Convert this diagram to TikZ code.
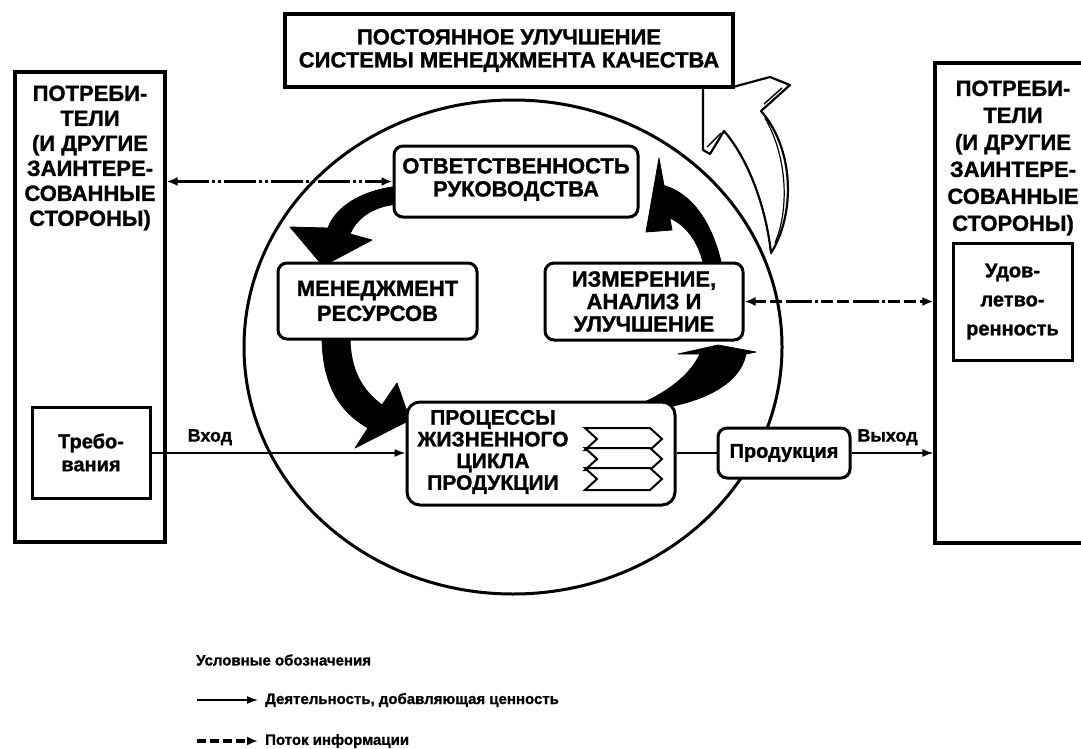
\documentclass[tikz,border=0pt]{standalone}
\usepackage{fontspec}
\setmainfont{Liberation Sans}[BoldFeatures={FakeBold=1.2}]
\usetikzlibrary{arrows.meta,shapes.geometric,calc}
\begin{document}
\begin{tikzpicture}[x=1pt,y=-1pt,
  bx/.style={draw,line width=3.2pt,fill=white,inner sep=0pt},
  rbx/.style={draw,line width=3pt,fill=white,rounded corners=9pt,inner sep=0pt,align=center},
  txt/.style={inner sep=0pt,align=center,font=\bfseries\fontsize{22}{25}\selectfont},
  flow/.style={line width=1.6pt,-{Latex[length=11pt,width=8pt]}},
  info/.style={line width=3.4pt,{Latex[length=11pt,width=9pt]}-{Latex[length=11pt,width=9pt]},dash pattern=on 32pt off 3pt on 3pt off 3pt on 3pt off 3pt},
  infor/.style={line width=3.4pt,{Latex[length=11pt,width=9pt]}-{Latex[length=11pt,width=9pt]},dash pattern=on 12pt off 4pt on 12pt off 4pt on 26pt off 3pt on 3pt off 3pt},
  infol/.style={line width=3.4pt,-{Latex[length=11pt,width=9pt]},dash pattern=on 9pt off 4pt},
  blk/.style={fill=black,draw=black,line width=0.8pt,line join=round},
  lbl/.style={inner sep=0pt,font=\bfseries\fontsize{18}{20}\selectfont},
  leg/.style={inner sep=0pt,anchor=west,font=\bfseries\fontsize{15}{17}\selectfont},
]
\useasboundingbox (0,0) rectangle (1081,749);
\fill[white] (0,0) rectangle (1081,749);

% big circle
\node[draw,ellipse,line width=3pt,minimum width=538pt,minimum height=494pt,inner sep=0pt] (cyc) at (513,347) {};

% hollow improvement arrow
\draw[line width=2.2pt,fill=white,line join=round] (703,87) -- (703,150) -- (710,154) -- (724,131)
  .. controls (745,155) and (765,200) .. (771,253)
  .. controls (795,215) and (795,150) .. (761,111) -- (790,85) -- (770,77) -- (733,87) -- cycle;
\draw[line width=1.2pt] (775,243) .. controls (789,210) and (788,158) .. (765,118);
\draw[line width=1.4pt] (707,147) -- (721,133);
\draw[line width=1.4pt] (764,104) -- (782,88);

% black cycle arrows
\fill[blk] (400,186) .. controls (360,190) and (335,208) .. (328,228) -- (290,227) -- (323,266) -- (372,240) -- (350,234) .. controls (358,215) and (378,205) .. (400,204) -- cycle;
\fill[blk] (322,336) .. controls (322,385) and (340,412) .. (368,428) -- (355,448) -- (410,420) -- (397,383) -- (382,405) .. controls (362,390) and (350,370) .. (350,336) -- cycle;
\fill[blk] (640,404) .. controls (668,392) and (690,375) .. (700,354) -- (678,354) -- (718,345) -- (756,352) -- (746,354) .. controls (740,385) and (700,405) .. (645,410) -- cycle;
\fill[blk] (662,185) .. controls (690,192) and (712,220) .. (722,266) -- (704,266) .. controls (698,240) and (685,222) .. (662,215) -- cycle;
\fill[blk] (659,158) -- (672,230) -- (646,232) -- cycle;

% boxes
\node[bx,minimum width=448pt,minimum height=73pt,txt,inner sep=0pt,font=\bfseries\fontsize{22}{23}\selectfont] (top) at (509,50.5) {ПОСТОЯННОЕ УЛУЧШЕНИЕ\\СИСТЕМЫ МЕНЕДЖМЕНТА КАЧЕСТВА};
\node[bx,minimum width=150pt,minimum height=470pt] (lbox) at (90,307) {};
\node[txt] (ltxt) at (90,158) {ПОТРЕБИ-\\ТЕЛИ\\(И ДРУГИЕ\\ЗАИНТЕРЕ-\\СОВАННЫЕ\\СТОРОНЫ)};
\node[bx,line width=3pt,minimum width=118pt,minimum height=91pt] (req) at (91,452.5) {};
\node[txt,font=\bfseries\fontsize{20}{23}\selectfont] (reqt) at (req) {Требо-\\вания};
\node[bx,minimum width=152pt,minimum height=480pt] (rbox) at (1011,303) {};
\node[txt,font=\bfseries\fontsize{22}{27}\selectfont] (rtxt) at (1013,158) {ПОТРЕБИ-\\ТЕЛИ\\(И ДРУГИЕ\\ЗАИНТЕРЕ-\\СОВАННЫЕ\\СТОРОНЫ)};
\node[bx,line width=3pt,minimum width=119pt,minimum height=117pt] (udov) at (1012.5,301.5) {};
\node[txt,font=\bfseries\fontsize{20}{29}\selectfont] (udovt) at (udov) {Удов-\\летво-\\ренность};

\node[rbx,minimum width=244pt,minimum height=71pt] (otv) at (516,181.5) {};
\node[txt,font=\bfseries\fontsize{22}{23}\selectfont] (otvt) at (516,179.5) {ОТВЕТСТВЕННОСТЬ\\РУКОВОДСТВА};
\node[rbx,minimum width=199pt,minimum height=76pt,txt] (men) at (377.5,301) {МЕНЕДЖМЕНТ\\РЕСУРСОВ};
\node[rbx,minimum width=198pt,minimum height=77pt,txt,font=\bfseries\fontsize{22}{22.5}\selectfont] (izm) at (644,301.5) {ИЗМЕРЕНИЕ,\\АНАЛИЗ И\\УЛУЧШЕНИЕ};
\node[rbx,rounded corners=13pt,minimum width=268pt,minimum height=103pt] (zhc) at (541,453.5) {};
\node[txt,font=\bfseries\fontsize{21}{21.7}\selectfont] (zhct) at (493,452) {ПРОЦЕССЫ\\ЖИЗНЕННОГО\\ЦИКЛА\\ПРОДУКЦИИ};
\foreach \t in {428,448,468}{
  \draw[line width=2pt,fill=white,line join=miter] (585,\t) -- (650,\t) -- (662,\t+11) -- (650,\t+22) -- (585,\t+22) -- (597,\t+11) -- cycle;
}
\node[rbx,minimum width=132pt,minimum height=50pt,font=\bfseries\fontsize{20}{22}\selectfont] (prod) at (784,453) {Продукция};

% connectors
\draw[flow] (req.east |- 0,453) -- node[lbl,pos=0.23,above=7pt] (vhod) {Вход} (zhc.west |- 0,453);
\draw[line width=1.6pt] (zhc.east |- 0,453) -- (prod.west |- 0,453);
\draw[flow] (prod.east |- 0,453) -- node[lbl,pos=0.44,above=7pt] (vyhod) {Выход} (rbox.west |- 0,453);
\draw[info] (lbox.east |- otv.west) -- (otv.west);
\draw[infor] (izm.east) -- (izm.east -| rbox.west);

% legend
\node[leg] (legh) at (196,660) {Условные обозначения};
\coordinate (la1) at (197,700);
\coordinate (lb1) at (258,700);
\draw[flow] (la1) -- (lb1);
\node[leg] (legt1) at (265,700) {Деятельность, добавляющая ценность};
\coordinate (la2) at (197,741);
\coordinate (lb2) at (258,741);
\draw[infol] (la2) -- (lb2);
\node[leg] (legt2) at (265,741) {Поток информации};
\end{tikzpicture}
\end{document}
